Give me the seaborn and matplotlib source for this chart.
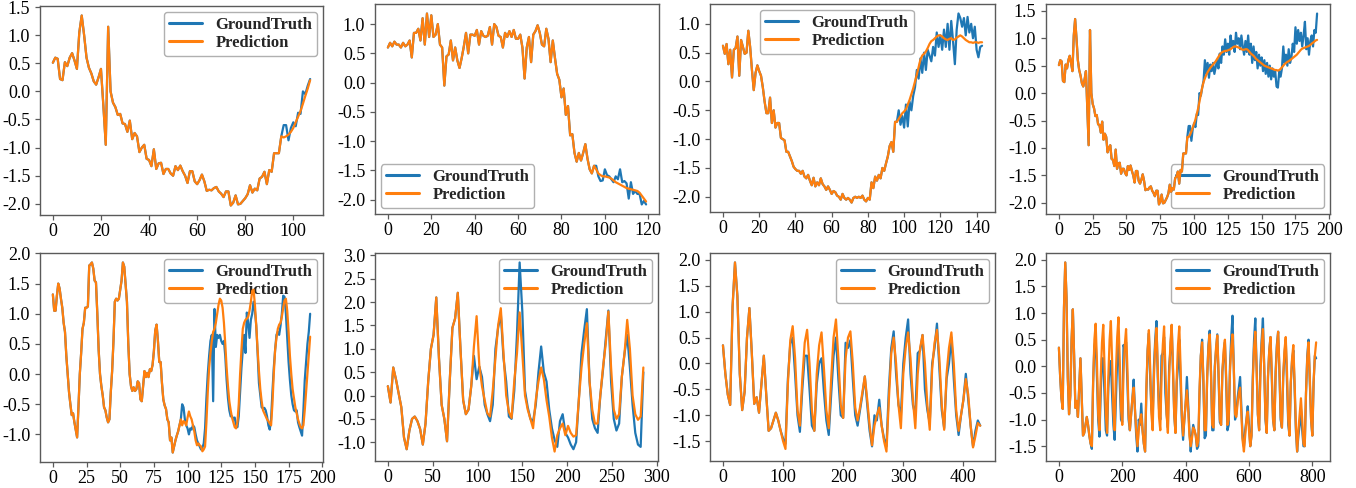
import numpy as np
import matplotlib
matplotlib.use("Agg")
import matplotlib.pyplot as plt
from matplotlib.ticker import MultipleLocator, FormatStrFormatter
import seaborn as sns

# ---------------- data ----------------
# Panels 1 & 4 share the same 96-step input window
input_a = [0.51, 0.60, 0.58, 0.22, 0.20, 0.52, 0.45, 0.60, 0.68, 0.55, 0.40, 1.05,
           1.35, 1.00, 0.60, 0.42, 0.32, 0.18, 0.12, 0.25, 0.40, -0.25, -0.95, 1.15,
           0.00, -0.20, -0.28, -0.42, -0.40, -0.57, -0.58, -0.72, -0.52, -0.85, -0.74, -0.80,
           -1.08, -1.00, -0.95, -1.20, -1.22, -1.33, -1.03, -1.38, -1.28, -1.27, -1.47, -1.38,
           -1.38, -1.46, -1.50, -1.33, -1.40, -1.32, -1.42, -1.50, -1.63, -1.42, -1.42, -1.60,
           -1.65, -1.58, -1.48, -1.60, -1.77, -1.75, -1.76, -1.72, -1.70, -1.78, -1.82, -1.88,
           -1.78, -1.78, -2.03, -1.98, -1.85, -2.01, -2.00, -1.95, -1.90, -1.83, -1.67, -1.80,
           -1.73, -1.76, -1.55, -1.52, -1.43, -1.65, -1.40, -1.43, -1.10, -1.10, -1.10, -0.80]
truth_a = [-0.60, -0.60, -0.87, -0.65, -0.55, -0.62, -0.38, -0.40, 0.00, -0.05, 0.10, 0.22,
           0.60, 0.35, 0.55, 0.28, 0.52, 0.40, 0.55, 0.35, 0.48, 0.60, 0.45, 0.72,
           0.55, 0.85, 0.70, 0.98, 0.75, 0.90, 0.70, 1.05, 0.85, 0.95, 0.75, 1.10,
           0.90, 1.00, 0.80, 1.05, 0.85, 0.70, 0.95, 0.75, 1.05, 0.70, 0.90, 0.55,
           0.85, 0.60, 0.75, 0.45, 0.70, 0.50, 0.65, 0.40, 0.60, 0.35, 0.55, 0.30,
           0.50, 0.25, 0.45, 0.30, 0.40, 0.12, 0.10, 0.40, 0.30, 0.45, 0.85, 0.55,
           0.70, 0.50, 0.80, 0.55, 0.65, 0.90, 0.75, 1.20, 0.90, 1.15, 0.95, 1.10,
           0.85, 1.05, 1.30, 0.80, 1.00, 0.70, 0.95, 1.05, 0.85, 1.15, 1.10, 1.45]
pred_1 = [-0.82, -0.80, -0.77, -0.72, -0.65, -0.55, -0.45, -0.35, -0.22, -0.08, 0.05, 0.20]
pred_4 = [-0.80, -0.76, -0.70, -0.63, -0.56, -0.48, -0.38, -0.28, -0.15, -0.02, 0.10, 0.20,
          0.27, 0.33, 0.38, 0.42, 0.46, 0.49, 0.52, 0.55, 0.58, 0.62, 0.66, 0.70,
          0.73, 0.75, 0.76, 0.77, 0.77, 0.78, 0.79, 0.80, 0.82, 0.84, 0.85, 0.85,
          0.84, 0.83, 0.82, 0.80, 0.79, 0.79, 0.80, 0.80, 0.78, 0.75, 0.72, 0.70,
          0.68, 0.65, 0.62, 0.60, 0.58, 0.56, 0.54, 0.52, 0.50, 0.49, 0.48, 0.47,
          0.46, 0.45, 0.44, 0.43, 0.42, 0.42, 0.41, 0.42, 0.44, 0.47, 0.50, 0.53,
          0.55, 0.57, 0.58, 0.60, 0.62, 0.64, 0.66, 0.68, 0.70, 0.73, 0.76, 0.79,
          0.81, 0.82, 0.83, 0.84, 0.85, 0.86, 0.88, 0.90, 0.92, 0.94, 0.96, 0.97]

# Panel 2
input_b = [0.60, 0.68, 0.62, 0.70, 0.65, 0.65, 0.60, 0.68, 0.62, 0.65, 0.72, 0.43,
           0.85, 0.85, 0.92, 0.72, 1.10, 0.65, 1.18, 0.78, 1.15, 0.78, 0.82, 1.00,
           0.65, 0.60, -0.05, 0.45, 0.48, 0.72, 0.38, 0.60, 0.38, 0.25, 0.42, 0.62,
           0.85, 0.50, 0.82, 0.82, 0.80, 0.90, 0.65, 0.88, 0.80, 0.78, 0.80, 0.95,
           0.65, 1.00, 0.95, 0.80, 0.78, 0.60, 0.85, 0.78, 0.88, 0.78, 0.90, 0.75,
           0.75, 0.82, 0.60, 0.07, 0.60, 0.78, 0.35, 0.82, 0.88, 0.98, 0.85, 0.65,
           0.62, 0.92, 0.75, 0.35, 0.72, 0.42, 0.15, 0.05, -0.25, -0.10, -0.55, -0.40,
           -0.90, -0.88, -1.20, -1.35, -1.20, -1.33, -1.20, -1.05, -1.30, -1.48, -1.55, -1.42]
truth_b = [-1.42, -1.60, -1.68, -1.67, -1.48, -1.58, -1.60, -1.65, -1.70, -1.60, -1.65, -1.48,
           -1.70, -1.68, -1.72, -1.98, -1.70, -1.90, -1.85, -1.90, -1.90, -2.08, -2.02, -2.08]
pred_2 = [-1.48, -1.55, -1.58, -1.60, -1.60, -1.61, -1.62, -1.64, -1.67, -1.70, -1.72, -1.74,
          -1.76, -1.78, -1.80, -1.81, -1.82, -1.83, -1.84, -1.85, -1.88, -1.93, -1.98, -2.03]

# Panel 3
input_c = [0.62, 0.48, 0.65, 0.30, 0.55, 0.07, 0.55, 0.58, 0.78, 0.10, 0.72, 0.60,
           0.48, 0.50, 0.88, 0.60, 0.20, -0.15, 0.15, 0.28, 0.18, 0.10, -0.10, -0.35,
           -0.55, -0.55, -0.28, -0.72, -0.50, -0.80, -0.72, -0.72, -0.98, -1.00, -1.02, -1.22,
           -1.22, -1.30, -1.38, -1.48, -1.52, -1.55, -1.55, -1.60, -1.55, -1.65, -1.68, -1.62,
           -1.72, -1.80, -1.67, -1.82, -1.75, -1.80, -1.68, -1.78, -1.82, -1.88, -1.82, -1.88,
           -1.95, -1.90, -1.92, -1.98, -2.00, -2.05, -1.95, -2.02, -2.05, -2.02, -2.05, -2.10,
           -2.02, -2.00, -2.02, -2.00, -2.02, -1.98, -2.05, -2.08, -2.02, -2.05, -1.75, -1.85,
           -1.65, -1.72, -1.62, -1.68, -1.50, -1.55, -1.42, -1.30, -1.12, -1.05, -1.22, -0.70]
truth_c = [-0.70, -0.50, -0.75, -0.60, -0.80, -0.40, -0.78, -0.35, -0.50, -0.25, -0.10, 0.20,
           0.05, 0.40, 0.15, 0.50, 0.20, 0.55, 0.45, 0.35, 0.60, 0.45, 0.85, 0.60,
           0.80, 0.55, 0.90, 0.60, 1.00, 0.55, 1.05, 0.70, 0.30, 0.90, 1.18, 1.10,
           0.95, 1.10, 0.80, 1.12, 0.85, 1.00, 0.75, 0.95, 0.55, 0.42, 0.60, 0.62]
pred_3 = [-0.70, -0.65, -0.60, -0.55, -0.52, -0.48, -0.40, -0.32, -0.22, -0.12, 0.00, 0.12,
          0.25, 0.38, 0.45, 0.48, 0.52, 0.58, 0.65, 0.70, 0.72, 0.75, 0.78, 0.80,
          0.80, 0.78, 0.75, 0.73, 0.72, 0.74, 0.75, 0.72, 0.73, 0.76, 0.78, 0.80,
          0.78, 0.75, 0.72, 0.70, 0.68, 0.68, 0.67, 0.68, 0.68, 0.67, 0.68, 0.68]

# Panel 5
input_d = [1.32, 1.05, 1.05, 1.30, 1.50, 1.42, 1.25, 1.10, 0.85, 0.70, 0.30, 0.00,
           -0.30, -0.50, -0.68, -0.65, -0.80, -0.92, -1.05, -0.55, 0.00, 0.35, 0.75, 0.85,
           1.10, 1.10, 1.12, 1.80, 1.82, 1.85, 1.75, 1.55, 1.52, 1.00, 0.40, 0.00,
           -0.20, -0.35, -0.55, -0.60, -0.72, -0.80, -0.75, -0.30, 0.05, 0.55, 1.20, 1.25,
           1.22, 1.25, 1.40, 1.55, 1.85, 1.78, 1.50, 1.20, 0.50, 0.00, -0.20, -0.28,
           -0.22, -0.28, -0.25, -0.12, -0.15, -0.42, -0.45, -0.20, 0.05, -0.05, 0.02, -0.05,
           0.08, 0.05, 0.15, 0.38, 0.72, 0.82, 0.55, 0.20, 0.20, -0.15, -0.42, -0.52,
           -0.58, -0.75, -0.80, -1.10, -1.05, -1.30, -1.20, -1.10, -1.02, -0.95, -0.85, -0.75]
truth_d = [-0.50, -0.55, -0.75, -0.85, -0.90, -1.00, -0.90, -0.92, -0.85, -0.88, -1.00, -1.10,
           -1.15, -1.20, -1.25, -1.22, -1.15, -0.90, -0.40, 0.00, 0.30, 0.55, 0.65, -0.45,
           1.08, 0.45, 0.65, 0.60, 0.65, 0.55, 0.50, 0.55, 0.30, -0.10, -0.40, -0.60,
           -0.70, -0.70, -0.75, -0.72, -0.85, -0.88, -0.70, -0.30, 0.10, 0.40, 0.65, 0.35,
           1.02, 0.85, 0.60, 0.90, 1.00, 1.20, 1.05, 0.80, 0.35, -0.15, -0.35, -0.55,
           -0.57, -0.56, -0.60, -0.70, -0.85, -0.92, -0.75, -0.30, 0.10, 0.40, 0.65, 0.70,
           0.65, 0.80, 1.00, 1.30, 1.28, 1.00, 0.60, 0.20, -0.10, -0.35, -0.50, -0.60,
           -0.62, -0.60, -0.80, -0.88, -0.95, -1.02, -0.60, -0.10, 0.20, 0.50, 0.70, 1.00]
pred_5 = [-0.85, -0.78, -0.80, -0.85, -0.72, -0.62, -0.70, -0.75, -0.85, -0.95, -1.10, -1.18,
          -1.15, -1.18, -1.20, -1.28, -1.25, -1.20, -0.80, -0.30, 0.10, 0.35, 0.55, 0.70,
          0.75, 0.85, 1.00, 1.15, 1.25, 1.22, 1.10, 0.85, 0.50, 0.10, -0.20, -0.45,
          -0.60, -0.72, -0.80, -0.88, -0.90, -0.80, -0.50, 0.00, 0.40, 0.75, 0.85, 0.90,
          0.92, 0.95, 1.05, 1.20, 1.38, 1.40, 1.15, 0.80, 0.40, 0.05, -0.25, -0.45,
          -0.60, -0.65, -0.70, -0.75, -0.78, -0.82, -0.85, -0.50, 0.00, 0.40, 0.60, 0.75,
          0.82, 0.85, 0.95, 1.10, 1.22, 1.25, 1.05, 0.70, 0.30, 0.00, -0.25, -0.40,
          -0.55, -0.65, -0.75, -0.82, -0.88, -0.90, -0.85, -0.60, -0.30, 0.00, 0.30, 0.62]

# Panel 6 (values every 3 steps)
input_e = [0.20, -0.15, 0.60, 0.35, 0.05, -0.25, -0.90, -1.15, -0.75, -0.50,
           -0.45, -0.55, -0.72, -1.05, -0.60, 0.30, 1.00, 1.30, 2.10, 0.80,
           -0.20, -0.50, -0.98, 0.30, 1.45, 1.65, 2.20, 1.00, -0.10, -0.40,
           -0.30, 0.20]
truth_e = [0.85, 0.35, 0.62, 0.40, -0.20, -0.40, -0.55, -0.20, 1.00, 1.45,
           1.75, 0.80, 0.30, -0.45, -0.50, 0.10, 1.30, 2.85, 1.80, 0.10,
           -0.25, -0.50, -0.55, -0.20, 0.50, 1.05, 0.50, 0.30, -0.30, -0.70,
           -0.95, -1.10, -0.55, -0.40, -0.80, -0.90, -1.05, -1.15, -1.00, -0.10,
           0.90, 1.40, 1.85, 0.30, -0.50, -0.70, -0.80, 0.00, 0.55, 1.20,
           1.82, 0.30, -0.50, -0.75, -0.60, 0.40, 0.90, 1.30, 0.60, -0.20,
           -0.80, -1.05, -1.10, 0.50]
pred_6 = [1.05, 1.70, 0.65, 0.20, -0.10, -0.38, -0.45, 0.10, 0.80, 1.50,
          1.87, 0.90, 0.00, -0.35, -0.48, 0.30, 0.90, 1.78, 0.90, 0.00,
          -0.30, -0.50, -0.70, -0.10, 0.30, 0.60, 0.35, -0.10, -0.45, -0.90,
          -1.20, -0.85, -0.70, -0.60, -0.85, -0.65, -0.80, -0.88, -0.85, -0.10,
          0.60, 1.10, 1.55, 0.30, -0.30, -0.60, -0.60, 0.00, 0.60, 1.10,
          1.80, 0.60, -0.30, -0.50, -0.40, 0.40, 0.90, 1.62, 1.00, 0.00,
          -0.40, -0.52, -0.45, 0.60]

# Panels 7 & 8 (values every 4 steps, shared input and ground truth)
input_f = [0.35, -0.20, -0.60, -0.80, 1.10, 1.95, 1.30, -0.20, -0.90, -0.55, 0.50, 1.07,
           0.20, -0.78, -0.65, -0.95, -0.40, 0.15, -0.60, -1.30, -1.25, -1.10, -0.95, -1.10]
truth_f1 = [-1.30, -1.45,
            -1.55, -0.30, 0.38, 0.50, -0.20, -1.00,
            -1.32, -0.50, 0.15, 0.15, -0.50, -1.20,
            -1.30, -0.40, 0.00, 0.10, -0.55, -1.10,
            -1.38, -0.60, 0.15, 0.50, -0.30, -1.00,
            -1.05, 0.40, 0.30, 0.45, -0.30, -1.00,
            -1.20, -0.90, -0.60, -0.25, -0.80, -1.30,
            -1.60, -1.00, -1.10, -0.70, -1.20, -1.45,
            -1.60, -0.50, 0.30, 0.62, -0.20, -0.80,
            -1.00, 0.00, 0.50, 0.85, -0.20, -0.80,
            -1.00, 0.20, 0.25, 0.55, -0.50, -0.90,
            -1.15, 0.00, 0.30, 0.77, -0.10, -0.90,
            -1.25, -0.30, 0.00, 0.50, -0.30, -1.00,
            -1.38, -1.00, -0.70, -0.20, -0.70, -1.20,
            -1.60, -1.30, -1.10, -1.20]
truth_f2 = [-1.30, -1.55,
            -1.50, -0.50, 0.20, 0.50, -0.30, -1.35,
            -1.30, -0.20, 0.40, 0.67, -0.10, -1.20,
            -1.20, 0.00, 0.30, 0.60, -0.20, -1.05,
            -1.10, -0.10, 0.20, 0.45, -0.30, -1.20,
            -1.10, 0.00, 0.55, 0.95, 0.00, -1.00,
            -0.90, -0.60, -0.40, -0.20, -0.80, -1.35,
            -1.50, -1.20, -1.00, -0.75, -1.10, -1.50,
            -1.30, -0.20, 0.50, 0.90, 0.00, -0.90,
            -1.20, 0.00, 0.50, 0.90, 0.00, -1.00,
            -1.25, -0.20, 0.30, 0.55, -0.20, -1.00,
            -1.20, -0.10, 0.40, 0.65, -0.10, -1.00,
            -1.15, -0.20, 0.20, 0.50, -0.30, -1.10,
            -1.30, -0.30, 0.10, 0.30, -0.40, -1.20,
            -1.60, -1.30, -1.10, -0.80, -1.20, -1.50,
            -1.50, -0.50, 0.20, 0.50, -0.30, -1.00,
            -1.30, -0.30, 0.20, 0.15]
pred_7 = [-1.30, -1.50,
          -1.65, -0.40, 0.45, 0.72, 0.10, -0.90,
          -1.20, -0.30, 0.40, 0.65, 0.00, -0.90,
          -1.30, -0.20, 0.35, 0.60, -0.10, -0.90,
          -1.25, -0.30, 0.50, 0.85, 0.10, -0.80,
          -1.05, 0.10, 0.50, 0.62, 0.00, -0.85,
          -1.10, -0.85, -0.55, -0.25, -0.70, -1.20,
          -1.58, -1.20, -1.00, -0.85, -1.20, -1.50,
          -1.70, -0.70, 0.20, 0.50, 0.00, -0.80,
          -1.25, -0.20, 0.30, 0.60, 0.10, -0.70,
          -1.25, -0.20, 0.30, 0.55, 0.00, -0.80,
          -1.28, -0.10, 0.40, 0.65, 0.10, -0.80,
          -1.28, -0.20, 0.30, 0.60, 0.00, -0.90,
          -1.30, -1.00, -0.70, -0.30, -0.60, -1.20,
          -1.62, -1.40, -1.15, -1.20]
pred_8a = [-1.30, -1.45,
           -1.50, -0.30, 0.50, 0.80, 0.10, -0.90,
           -1.20, -0.20, 0.45, 0.78, 0.00, -0.90,
           -1.25, -0.20, 0.50, 0.85, 0.10, -0.85,
           -1.20, -0.10, 0.55, 0.92, 0.10, -0.80,
           -1.10, -0.10, 0.40, 0.70, 0.00, -0.90,
           -1.20, -0.90, -0.60, -0.40, -0.80, -1.20,
           -1.50, -1.20, -1.00, -0.90, -1.20, -1.45,
           -1.60, -0.40, 0.30, 0.68, 0.00, -0.90,
           -1.20, -0.20, 0.40, 0.72, 0.00, -0.95,
           -1.20, -0.20, 0.40, 0.75, 0.00, -0.90,
           -1.25, -0.20, 0.45, 0.78, 0.00, -0.90,
           -1.25, -0.20, 0.40, 0.75, 0.00, -0.90,
           -1.30, -1.00, -0.70, -0.45, -0.80, -1.30,
           -1.50, -1.35, -1.15, -1.20]
pred_8b = [-1.30, -1.50,
           -1.40, -0.40, 0.20, 0.45, -0.20, -1.20,
           -1.20, -0.20, 0.35, 0.60, -0.10, -1.10,
           -1.15, -0.10, 0.35, 0.58, -0.10, -1.00,
           -1.10, -0.10, 0.30, 0.50, -0.20, -1.10,
           -1.00, -0.10, 0.35, 0.60, 0.00, -0.90,
           -0.95, -0.70, -0.50, -0.40, -0.90, -1.40,
           -1.60, -1.30, -1.00, -0.85, -1.20, -1.50,
           -1.30, -0.30, 0.35, 0.65, 0.00, -0.90,
           -1.20, -0.20, 0.40, 0.70, 0.00, -0.95,
           -1.25, -0.20, 0.30, 0.55, -0.10, -1.00,
           -1.20, -0.20, 0.35, 0.65, 0.00, -0.95,
           -1.15, -0.20, 0.30, 0.55, -0.10, -1.00,
           -1.30, -0.30, 0.15, 0.40, -0.30, -1.10,
           -1.60, -1.20, -0.90, -0.60, -1.00, -1.45,
           -1.50, -0.50, 0.15, 0.45, -0.20, -1.00,
           -1.30, -0.30, 0.20, 0.45]

labels = ["GroundTruth", "Prediction"]

# ---------------- style ----------------
sns.set_theme(style="ticks")
plt.rcParams['font.family'] = ['Liberation Serif', 'DejaVu Serif']
plt.rcParams['axes.unicode_minus'] = False

GT_COLOR = "#1f77b4"
PR_COLOR = "#ff7f0e"
SPINE = "#5a5a5a"

W, H = 1356, 488
fig = plt.figure(figsize=(W / 100, H / 100), dpi=100)


def make_ax(l, t, r, b):
    return fig.add_axes([l / W, 1 - b / H, (r - l) / W, (b - t) / H])


def panel(box, history, truth, pred, n, step, xstep, loc, anchor=None):
    ax = make_ax(*box)
    x = np.arange(0, n, step)[: len(history) + len(truth)]
    gt = np.concatenate([history, truth])
    pr = np.concatenate([history, pred])
    sns.lineplot(x=x, y=gt, ax=ax, color=GT_COLOR, linewidth=1.6, label=labels[0], zorder=3)
    sns.lineplot(x=x, y=pr, ax=ax, color=PR_COLOR, linewidth=1.6, label=labels[1], zorder=3)
    span = n - 1
    ax.set_xlim(-0.05 * span, 1.05 * span)
    ax.xaxis.set_major_locator(MultipleLocator(xstep))
    ax.yaxis.set_major_locator(MultipleLocator(0.5))
    ax.yaxis.set_major_formatter(FormatStrFormatter('%.1f'))
    for s in ax.spines.values():
        s.set_color(SPINE)
        s.set_linewidth(1.0)
        s.set_visible(True)
    ax.tick_params(axis="both", which="major", labelsize=13, length=3.5, width=0.9,
                   color=SPINE, labelcolor="black", pad=3.5)
    ax.tick_params(axis="x", pad=2.0)
    ax.set_xlabel("")
    ax.set_ylabel("")
    kw = dict(loc=loc, frameon=True, fancybox=True, framealpha=1.0, edgecolor="#b0b0b0",
              prop={"weight": "bold", "size": 12}, labelspacing=0.12, borderpad=0.3,
              borderaxespad=0.35, handlelength=2.0, handletextpad=0.8)
    if anchor is not None:
        kw["bbox_to_anchor"] = anchor
    leg = ax.legend(**kw)
    leg.set_zorder(2)
    for line in leg.get_lines():
        line.set_linewidth(2.2)
    return ax


# Row 1
panel((40, 6, 323, 215), input_a, truth_a[:12], pred_1, 108, 1, 20, "upper right")
panel((375, 4, 659, 214), input_b, truth_b, pred_2, 120, 1, 20, "lower left")
panel((710, 4, 995, 212), input_c, truth_c, pred_3, 144, 1, 20, "upper center", (0.445, 1.0))
panel((1046, 4, 1330, 214), input_a, truth_a, pred_4, 192, 1, 25, "lower right")

# Row 2
panel((40, 253, 323, 462), input_d, truth_d, pred_5, 192, 1, 25, "upper right")
panel((375, 253, 658, 461), input_e, truth_e, pred_6, 288, 3, 50, "upper right")
panel((710, 253, 995, 461), input_f, truth_f1, pred_7, 432, 4, 100, "upper right")
panel((1046, 253, 1330, 461), input_f, truth_f1 + truth_f2, pred_8a + pred_8b, 816, 4, 200,
      "upper right")

fig.savefig("out.png", dpi=100, facecolor="white")
